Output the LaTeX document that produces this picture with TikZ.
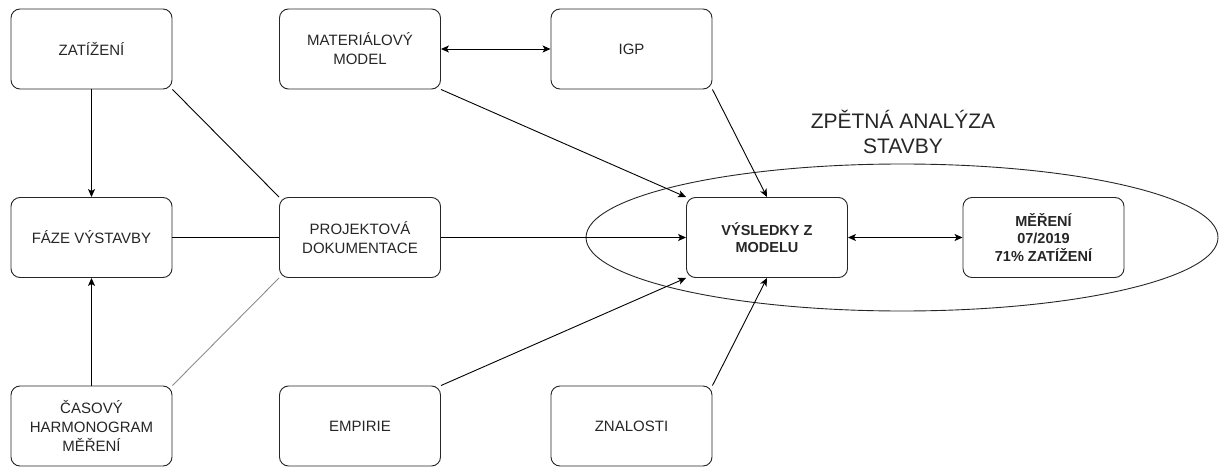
\documentclass[tikz,border=0pt]{standalone}
\usepackage{fontspec}
\setmainfont{Liberation Sans}
\usetikzlibrary{arrows.meta,shapes.geometric}
\begin{document}
\begin{tikzpicture}[x=1pt,y=-1pt,
  box/.style={draw=black!85,line width=0.9pt,rounded corners=9pt,fill=white,
    minimum width=161pt,minimum height=80pt,inner sep=2pt,align=center,
    text=black!85,font=\fontsize{15}{19}\selectfont},
  boldbox/.style={box,font=\fontsize{14.5}{17.5}\selectfont\bfseries},
  conn/.style={draw=black,line width=0.9pt},
  arr/.style={conn,-{Stealth[length=8pt,width=7pt,inset=2pt]}},
  darr/.style={conn,{Stealth[length=8pt,width=7pt,inset=2pt]}-{Stealth[length=8pt,width=7pt,inset=2pt]}},
  title/.style={align=center,text=black!85,font=\fontsize{21}{25}\selectfont}]
\useasboundingbox (0,0) rectangle (1219,468);
\node[draw=black!85,line width=0.9pt,ellipse,minimum width=632pt,minimum height=147pt,inner sep=0pt] (ell) at (902,237.5) {};
\node[title] (ttl) at (903,132) {ZPĚTNÁ ANALÝZA\\STAVBY};
\node[box] (zat) at (91.5,49) {ZATÍŽENÍ};
\node[box] (mat) at (360,49) {MATERIÁLOVÝ\\MODEL};
\node[box] (igp) at (631.5,49) {IGP};
\node[box] (faze) at (91.5,237.5) {FÁZE VÝSTAVBY};
\node[box] (proj) at (360,237.5) {PROJEKTOVÁ\\DOKUMENTACE};
\node[box] (cas) at (91.5,426) {ČASOVÝ\\HARMONOGRAM\\MĚŘENÍ};
\node[box] (emp) at (360,426) {EMPIRIE};
\node[box] (zna) at (631.5,426) {ZNALOSTI};
\node[boldbox] (vys) at (767,237.5) {VÝSLEDKY Z\\MODELU};
\node[boldbox] (mer) at (1043.5,237.5) {MĚŘENÍ\\07/2019\\71\% ZATÍŽENÍ};
\draw[arr] (zat.south) -- (faze.north);
\draw[arr] (cas.north) -- (faze.south);
\draw[conn] (zat.south east) -- (proj.north west);
\draw[draw=black!45,line width=0.9pt] (cas.north east) -- (proj.south west);
\draw[conn] (faze.east) -- (proj.west);
\draw[arr] (proj.east) -- (vys.west);
\draw[arr] (mat.south east) -- (vys.north west);
\draw[arr] (igp.south east) -- (vys.north);
\draw[arr] (emp.north east) -- (vys.south west);
\draw[arr] (zna.north east) -- (vys.south);
\draw[darr] (mat.east) -- (igp.west);
\draw[darr] (vys.east) -- (mer.west);
\end{tikzpicture}
\end{document}
